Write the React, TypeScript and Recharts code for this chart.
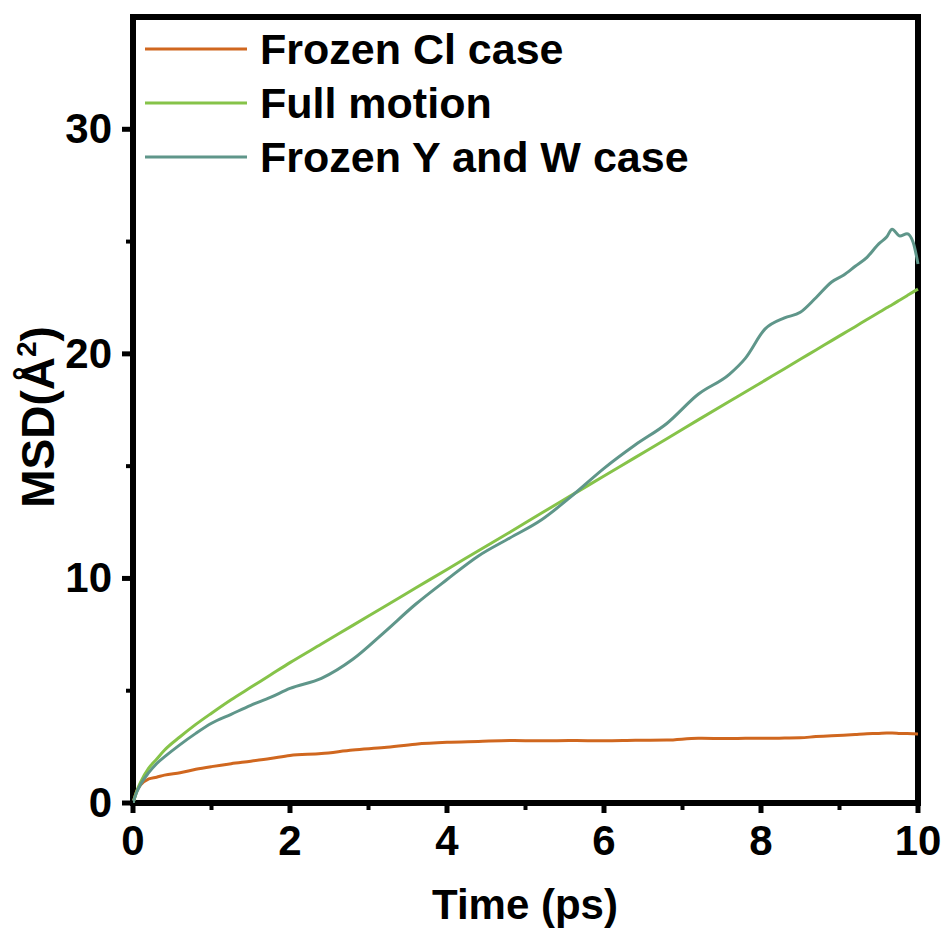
import React from "react";
import { LineChart, Line, XAxis, YAxis, Legend, ReferenceArea } from "recharts";

// MSD curves, time in ps, MSD in Å^2
const time = [
  0, 0.05, 0.1, 0.2, 0.3, 0.4, 0.6, 0.8, 1.0, 1.25, 1.5, 1.75, 2.0, 2.4, 2.8,
  3.2, 3.6, 4.0, 4.4, 4.8, 5.2, 5.6, 6.0, 6.4, 6.8, 7.2, 7.6, 7.8, 8.05, 8.3,
  8.5, 8.7, 8.9, 9.05, 9.2, 9.35, 9.5, 9.6, 9.67, 9.77, 9.86, 9.94, 10,
];
const frozenCl = [
  0, 0.55, 0.82, 1.07, 1.15, 1.24, 1.35, 1.5, 1.62, 1.75, 1.86, 1.98, 2.12,
  2.2, 2.36, 2.47, 2.62, 2.7, 2.74, 2.78, 2.77, 2.78, 2.77, 2.79, 2.8, 2.88,
  2.87, 2.88, 2.88, 2.89, 2.9, 2.96, 3.0, 3.02, 3.05, 3.08, 3.1, 3.12, 3.12,
  3.1, 3.09, 3.08, 3.07,
];
const fullMotion = [
  0, 0.55, 0.95, 1.55, 1.95, 2.35, 2.95, 3.5, 4.0, 4.6, 5.15, 5.7, 6.25, 7.08,
  7.91, 8.74, 9.57, 10.4, 11.23, 12.06, 12.9, 13.73, 14.56, 15.39, 16.22,
  17.06, 17.89, 18.3, 18.82, 19.34, 19.76, 20.17, 20.59, 20.9, 21.21, 21.53,
  21.84, 22.05, 22.19, 22.4, 22.59, 22.76, 22.88,
];
const frozenYW = [
  0, 0.5, 0.85, 1.35, 1.75, 2.05, 2.6, 3.1, 3.55, 3.95, 4.35, 4.7, 5.1, 5.55,
  6.4, 7.6, 8.85, 9.95, 11.0, 11.8, 12.6, 13.7, 14.9, 15.95, 16.9, 18.2, 19.1,
  19.8, 21.1, 21.6, 21.85, 22.5, 23.2, 23.5, 23.9, 24.3, 24.9, 25.2, 25.55,
  25.25, 25.35, 24.95, 24.0,
];

const seriesNames = ["Frozen Cl case", "Full motion", "Frozen Y and W case"];
const xTicks = [0, 1, 2, 3, 4, 5, 6, 7, 8, 9, 10];
const yTicks = [0, 5, 10, 15, 20, 25, 30];

const FONT = "'Liberation Sans', Arial, sans-serif";

const rows = time.map((t, i) => ({
  t,
  frozenCl: frozenCl[i],
  fullMotion: fullMotion[i],
  frozenYW: frozenYW[i],
}));

function XTick({ x, y, payload }: any) {
  const major = payload.value % 2 === 0;
  return (
    <g>
      <line x1={x} x2={x} y1={y} y2={y + (major ? 10 : 7)} stroke="#000" strokeWidth={major ? 5 : 4} />
      {major && (
        <text x={x} y={y + 52} textAnchor="middle" fontFamily={FONT} fontWeight="bold" fontSize={42} fill="#000">
          {payload.value}
        </text>
      )}
    </g>
  );
}

function YTick({ x, y, payload }: any) {
  const major = payload.value % 10 === 0;
  return (
    <g>
      <line x1={x - (major ? 11 : 7)} x2={x} y1={y} y2={y} stroke="#000" strokeWidth={major ? 5 : 4} />
      {major && (
        <text x={x - 21} y={y + 14} textAnchor="end" fontFamily={FONT} fontWeight="bold" fontSize={42} fill="#000">
          {payload.value}
        </text>
      )}
    </g>
  );
}

function LegendBox({ payload }: any) {
  const items = [...(payload || [])].sort(
    (a: any, b: any) => seriesNames.indexOf(a.value) - seriesNames.indexOf(b.value)
  );
  return (
    <div style={{ fontFamily: FONT, fontWeight: "bold", fontSize: 43, color: "#000" }}>
      {items.map((p: any) => (
        <div key={p.value} style={{ display: "flex", alignItems: "center", height: 54, lineHeight: "54px" }}>
          <svg width={102} height={4} style={{ display: "block" }}>
            <line x1={0} x2={102} y1={2} y2={2} stroke={p.color} strokeWidth={3} />
          </svg>
          <span style={{ marginLeft: 13, whiteSpace: "nowrap" }}>{p.value}</span>
        </div>
      ))}
    </div>
  );
}

export default function App() {
  return (
    <div style={{ position: "absolute", left: 0, top: 0, background: "#fff" }}>
      <LineChart width={947} height={936} data={rows} margin={{ top: 17, right: 29, left: 0, bottom: 0 }}>
        <XAxis
          dataKey="t"
          type="number"
          domain={[0, 10]}
          ticks={xTicks}
          height={133}
          axisLine={false}
          tickLine={false}
          tickSize={0}
          tickMargin={0}
          tick={<XTick />}
          interval={0}
          label={{
            content: () => (
              <text x={525} y={919} textAnchor="middle" fontFamily={FONT} fontWeight="bold" fontSize={42} fill="#000">
                Time (ps)
              </text>
            ),
          }}
        />
        <YAxis
          type="number"
          domain={[0, 35]}
          ticks={yTicks}
          width={133}
          axisLine={false}
          tickLine={false}
          tickSize={0}
          tickMargin={0}
          tick={<YTick />}
          interval={0}
          label={{
            content: () => (
              <text
                x={54}
                y={417}
                transform="rotate(-90, 54, 417)"
                textAnchor="middle"
                fontFamily={FONT}
                fontWeight="bold"
                fontSize={46}
                fill="#000"
              >
                MSD(Å
                <tspan dy={-18} fontSize={28}>2</tspan>
                <tspan dy={18}>)</tspan>
              </text>
            ),
          }}
        />
        {/* legend placed in the top-left corner of the frame without reserving space */}
        <Legend
          verticalAlign="middle"
          align="center"
          layout="horizontal"
          content={<LegendBox />}
          wrapperStyle={{ position: "absolute", left: 145, top: 22, width: "auto", height: "auto" }}
        />
        <Line
          type="monotone"
          dataKey="frozenCl"
          name="Frozen Cl case"
          stroke="#D0671F"
          strokeWidth={3}
          dot={false}
          activeDot={false}
          isAnimationActive={false}
        />
        <Line
          type="monotone"
          dataKey="fullMotion"
          name="Full motion"
          stroke="#86C349"
          strokeWidth={3}
          dot={false}
          activeDot={false}
          isAnimationActive={false}
        />
        <Line
          type="monotone"
          dataKey="frozenYW"
          name="Frozen Y and W case"
          stroke="#5F968A"
          strokeWidth={3}
          dot={false}
          activeDot={false}
          isAnimationActive={false}
        />
        {/* closed frame around the plot area */}
        <ReferenceArea
          x1={0}
          x2={10}
          y1={0}
          y2={35}
          fill="none"
          stroke="#000"
          strokeWidth={6}
          ifOverflow="visible"
        />
      </LineChart>
    </div>
  );
}
